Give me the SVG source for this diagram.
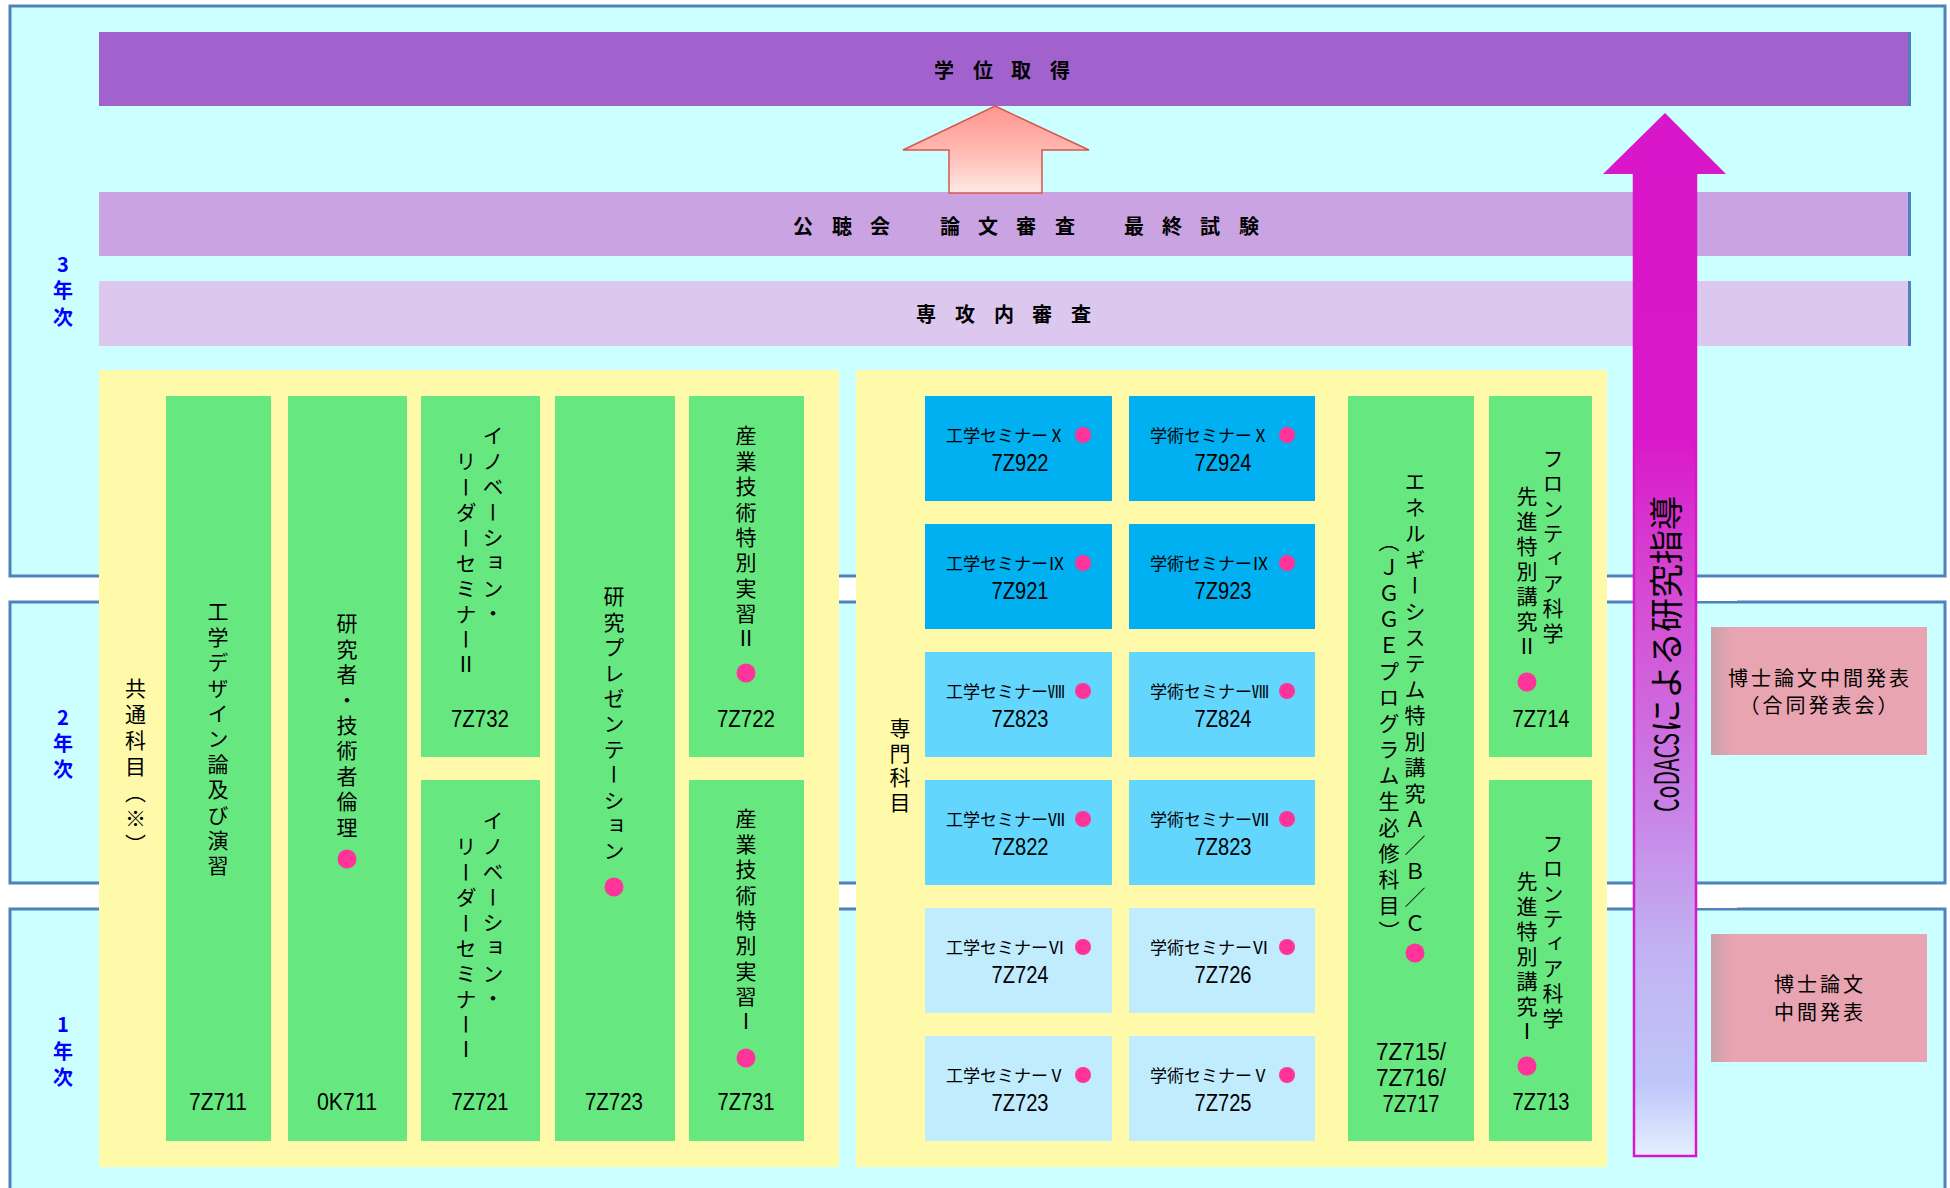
<svg xmlns="http://www.w3.org/2000/svg" width="1950" height="1188" viewBox="0 0 1950 1188">
<defs>
<style>
.yr{fill:#ccffff;stroke:#4f81bd;stroke-width:3}
.ylab{font-family:"Noto Sans CJK JP","Liberation Sans",sans-serif;font-size:20px;font-weight:bold;fill:#0000ff;text-anchor:middle}
.bt{font-family:"Noto Sans CJK JP",sans-serif;font-size:20px;font-weight:bold;fill:#000}
.panel{fill:#fffaaa}
.g{fill:#67e77f}
.s1{fill:#00b0f0}
.s2{fill:#63d6fe}
.s3{fill:#c0ecfd}
.dot{fill:#ff3399}
.vt{font-family:"Noto Sans CJK JP",sans-serif;font-size:21px;writing-mode:vertical-rl;text-orientation:upright;font-feature-settings:"fwid";letter-spacing:4.4px;fill:#000}
.w26{letter-spacing:5px}
.code{font-family:"Liberation Sans",Arial,sans-serif;font-size:23.5px;text-anchor:middle;fill:#000}
.st{font-family:"Noto Sans CJK JP",sans-serif;font-size:17px;font-feature-settings:"fwid";fill:#000}
.pt{font-family:"Noto Sans CJK JP",sans-serif;font-size:20px;letter-spacing:3px;text-anchor:middle;fill:#000}
.edge{stroke:#4f81bd;stroke-width:3}
</style>
<linearGradient id="pinkArrow" x1="0" y1="0" x2="0" y2="1">
<stop offset="0" stop-color="#ff968e"/>
<stop offset="0.45" stop-color="#ffb4ac"/>
<stop offset="1" stop-color="#ffe8e4"/>
</linearGradient>
<linearGradient id="mag" gradientUnits="userSpaceOnUse" x1="0" y1="114" x2="0" y2="1156">
<stop offset="0" stop-color="#d916c9"/>
<stop offset="0.31" stop-color="#d918c9"/>
<stop offset="0.47" stop-color="#d54dd4"/>
<stop offset="0.66" stop-color="#c980e6"/>
<stop offset="0.80" stop-color="#c2b2f2"/>
<stop offset="0.93" stop-color="#bfc6f9"/>
<stop offset="1" stop-color="#e4efff"/>
</linearGradient>
<linearGradient id="pkEdge" x1="0" y1="0" x2="1" y2="0">
<stop offset="0" stop-color="#c9a2aa"/>
<stop offset="0.1" stop-color="#e8a4b0"/>
<stop offset="1" stop-color="#e8a4b0"/>
</linearGradient>
</defs>

<g id="year-boxes">
<rect class="yr" x="10" y="6" width="1935" height="570"/>
<rect class="yr" x="10" y="602" width="1935" height="281"/>
<rect class="yr" x="10" y="909" width="1935" height="300"/>
<text class="ylab"><tspan x="63" y="272">3</tspan><tspan x="63" y="298">年</tspan><tspan x="63" y="325">次</tspan></text>
<text class="ylab"><tspan x="63" y="725">2</tspan><tspan x="63" y="751">年</tspan><tspan x="63" y="777">次</tspan></text>
<text class="ylab"><tspan x="63" y="1032">1</tspan><tspan x="63" y="1059">年</tspan><tspan x="63" y="1085">次</tspan></text>
</g>

<g id="degree">
<rect x="99" y="32" width="1812" height="74" fill="#a162cd"/>
<line class="edge" x1="1909.5" y1="32" x2="1909.5" y2="106"/>
<text class="bt" font-size="21" x="934 973 1011 1050" y="78">学位取得</text>
</g>
<g id="final-exam">
<rect x="99" y="192" width="1812" height="64" fill="#c9a3e2"/>
<line class="edge" x1="1909.5" y1="192" x2="1909.5" y2="256"/>
<text class="bt" x="793 832 870 905 940 978 1016 1055 1090 1124 1162 1200 1239" y="234">公聴会　論文審査　最終試験</text>
</g>
<g id="internal-review">
<rect x="99" y="281" width="1812" height="65" fill="#dcc8ee"/>
<line class="edge" x1="1909.5" y1="281" x2="1909.5" y2="346"/>
<text class="bt" x="916 955 994 1032 1071" y="322">専攻内審査</text>
</g>

<g id="connectors">
<polygon points="995,106 1089,150 1042,150 1042,193 949,193 949,150 903,150" fill="url(#pinkArrow)" stroke="#d4584f" stroke-width="1.5"/>
</g>

<g id="common-subjects">
<rect class="panel" x="99" y="370" width="740" height="797"/>
<text class="vt w26" x="135.5" y="678">共通科目（※）</text>
</g>
<g id="c-7Z711">
<rect class="g" x="166" y="396" width="105" height="745"/>
<text class="vt" x="218" y="601">工学デザイン論及び演習</text>
<text class="code" x="218" y="1110" textLength="58" lengthAdjust="spacingAndGlyphs">7Z711</text>
</g>
<g id="c-0K711">
<rect class="g" x="288" y="396" width="119" height="745"/>
<text class="vt" x="347" y="613">研究者・技術者倫理</text>
<circle class="dot" cx="347" cy="859" r="9.5"/>
<text class="code" x="347" y="1110" textLength="60" lengthAdjust="spacingAndGlyphs">0K711</text>
</g>
<g id="c-7Z732">
<rect class="g" x="421" y="396" width="119" height="361"/>
<text class="vt" x="493" y="425">イノベーション・</text>
<text class="vt" x="466" y="451">リーダーセミナーⅡ</text>
<text class="code" x="480" y="727" textLength="58" lengthAdjust="spacingAndGlyphs">7Z732</text>
</g>
<g id="c-7Z721">
<rect class="g" x="421" y="780" width="119" height="361"/>
<text class="vt" x="493" y="810">イノベーション・</text>
<text class="vt" x="466" y="836">リーダーセミナーⅠ</text>
<text class="code" x="480" y="1110" textLength="57" lengthAdjust="spacingAndGlyphs">7Z721</text>
</g>
<g id="c-7Z723">
<rect class="g" x="555" y="396" width="120" height="745"/>
<text class="vt" x="614" y="586">研究プレゼンテーション</text>
<circle class="dot" cx="614" cy="887" r="9.5"/>
<text class="code" x="614" y="1110" textLength="58" lengthAdjust="spacingAndGlyphs">7Z723</text>
</g>
<g id="c-7Z722">
<rect class="g" x="689" y="396" width="115" height="361"/>
<text class="vt" x="746" y="425">産業技術特別実習Ⅱ</text>
<circle class="dot" cx="746" cy="673" r="9.5"/>
<text class="code" x="746" y="727" textLength="58" lengthAdjust="spacingAndGlyphs">7Z722</text>
</g>
<g id="c-7Z731">
<rect class="g" x="689" y="780" width="115" height="361"/>
<text class="vt" x="746" y="808">産業技術特別実習Ⅰ</text>
<circle class="dot" cx="746" cy="1058" r="9.5"/>
<text class="code" x="746" y="1110" textLength="57" lengthAdjust="spacingAndGlyphs">7Z731</text>
</g>

<g id="major-subjects">
<rect class="panel" x="856" y="370" width="751" height="797"/>
<text class="vt" x="900" y="718" style="letter-spacing:3.5px">専門科目</text>
</g>

<g id="s-7Z922"><rect class="s1" x="925" y="396" width="187" height="105"/><text class="st" x="946" y="442">工学セミナーⅩ</text><circle class="dot" cx="1083" cy="435" r="8"/><text class="code" x="1020" y="471" textLength="57" lengthAdjust="spacingAndGlyphs">7Z922</text></g>
<g id="s-7Z924"><rect class="s1" x="1129" y="396" width="186" height="105"/><text class="st" x="1150" y="442">学術セミナーⅩ</text><circle class="dot" cx="1287" cy="435" r="8"/><text class="code" x="1223" y="471" textLength="57" lengthAdjust="spacingAndGlyphs">7Z924</text></g>
<g id="s-7Z921"><rect class="s1" x="925" y="524" width="187" height="105"/><text class="st" x="946" y="570">工学セミナーⅨ</text><circle class="dot" cx="1083" cy="563" r="8"/><text class="code" x="1020" y="599" textLength="57" lengthAdjust="spacingAndGlyphs">7Z921</text></g>
<g id="s-7Z923"><rect class="s1" x="1129" y="524" width="186" height="105"/><text class="st" x="1150" y="570">学術セミナーⅨ</text><circle class="dot" cx="1287" cy="563" r="8"/><text class="code" x="1223" y="599" textLength="57" lengthAdjust="spacingAndGlyphs">7Z923</text></g>
<g id="s-7Z823a"><rect class="s2" x="925" y="652" width="187" height="105"/><text class="st" x="946" y="698">工学セミナーⅧ</text><circle class="dot" cx="1083" cy="691" r="8"/><text class="code" x="1020" y="727" textLength="57" lengthAdjust="spacingAndGlyphs">7Z823</text></g>
<g id="s-7Z824"><rect class="s2" x="1129" y="652" width="186" height="105"/><text class="st" x="1150" y="698">学術セミナーⅧ</text><circle class="dot" cx="1287" cy="691" r="8"/><text class="code" x="1223" y="727" textLength="57" lengthAdjust="spacingAndGlyphs">7Z824</text></g>
<g id="s-7Z822"><rect class="s2" x="925" y="780" width="187" height="105"/><text class="st" x="946" y="826">工学セミナーⅦ</text><circle class="dot" cx="1083" cy="819" r="8"/><text class="code" x="1020" y="855" textLength="57" lengthAdjust="spacingAndGlyphs">7Z822</text></g>
<g id="s-7Z823b"><rect class="s2" x="1129" y="780" width="186" height="105"/><text class="st" x="1150" y="826">学術セミナーⅦ</text><circle class="dot" cx="1287" cy="819" r="8"/><text class="code" x="1223" y="855" textLength="57" lengthAdjust="spacingAndGlyphs">7Z823</text></g>
<g id="s-7Z724"><rect class="s3" x="925" y="908" width="187" height="105"/><text class="st" x="946" y="954">工学セミナーⅥ</text><circle class="dot" cx="1083" cy="947" r="8"/><text class="code" x="1020" y="983" textLength="57" lengthAdjust="spacingAndGlyphs">7Z724</text></g>
<g id="s-7Z726"><rect class="s3" x="1129" y="908" width="186" height="105"/><text class="st" x="1150" y="954">学術セミナーⅥ</text><circle class="dot" cx="1287" cy="947" r="8"/><text class="code" x="1223" y="983" textLength="57" lengthAdjust="spacingAndGlyphs">7Z726</text></g>
<g id="s-7Z723"><rect class="s3" x="925" y="1036" width="187" height="105"/><text class="st" x="946" y="1082">工学セミナーⅤ</text><circle class="dot" cx="1083" cy="1075" r="8"/><text class="code" x="1020" y="1111" textLength="57" lengthAdjust="spacingAndGlyphs">7Z723</text></g>
<g id="s-7Z725"><rect class="s3" x="1129" y="1036" width="186" height="105"/><text class="st" x="1150" y="1082">学術セミナーⅤ</text><circle class="dot" cx="1287" cy="1075" r="8"/><text class="code" x="1223" y="1111" textLength="57" lengthAdjust="spacingAndGlyphs">7Z725</text></g>

<g id="c-energy">
<rect class="g" x="1348" y="396" width="126" height="745"/>
<text class="vt w26" x="1415" y="471">エネルギーシステム特別講究Ａ／Ｂ／Ｃ</text>
<text class="vt w26" x="1389" y="531">（ＪＧＧＥプログラム生必修科目）</text>
<circle class="dot" cx="1415" cy="953" r="9.5"/>
<text class="code" x="1411" y="1060" textLength="70" lengthAdjust="spacingAndGlyphs">7Z715/</text>
<text class="code" x="1411" y="1086" textLength="70" lengthAdjust="spacingAndGlyphs">7Z716/</text>
<text class="code" x="1411" y="1112" textLength="57" lengthAdjust="spacingAndGlyphs">7Z717</text>
</g>
<g id="c-7Z714">
<rect class="g" x="1489" y="396" width="103" height="361"/>
<text class="vt" x="1553" y="448" style="letter-spacing:4px">フロンティア科学</text>
<text class="vt" x="1527" y="486" style="letter-spacing:4px">先進特別講究Ⅱ</text>
<circle class="dot" cx="1527" cy="682" r="9.5"/>
<text class="code" x="1541" y="727" textLength="57" lengthAdjust="spacingAndGlyphs">7Z714</text>
</g>
<g id="c-7Z713">
<rect class="g" x="1489" y="780" width="103" height="361"/>
<text class="vt" x="1553" y="833" style="letter-spacing:4px">フロンティア科学</text>
<text class="vt" x="1527" y="871" style="letter-spacing:4px">先進特別講究Ⅰ</text>
<circle class="dot" cx="1527" cy="1066" r="9.5"/>
<text class="code" x="1541" y="1110" textLength="57" lengthAdjust="spacingAndGlyphs">7Z713</text>
</g>

<g id="codacs">
<rect x="1696" y="578" width="41" height="23" fill="#ffffff"/>
<rect x="1696" y="885" width="41" height="23" fill="#ffffff"/>
<polygon points="1665,113 1726,174 1603,174" fill="#d916c9"/>
<rect x="1634" y="173" width="62" height="983" fill="url(#mag)" stroke="#d916c9" stroke-width="2.5"/>
<text transform="translate(1664,651) rotate(-90)" font-family="Noto Sans CJK JP, sans-serif" font-size="34" dominant-baseline="central" fill="#000"><tspan x="-161" y="0" textLength="79" lengthAdjust="spacingAndGlyphs">CoDACS</tspan><tspan>による研究指導</tspan></text>
</g>

<g id="interim-joint">
<rect x="1711" y="627" width="216" height="128" fill="url(#pkEdge)"/>
<text class="pt" x="1820" y="686">博士論文中間発表</text>
<text class="pt" x="1820" y="713">（合同発表会）</text>
</g>
<g id="interim">
<rect x="1711" y="934" width="216" height="128" fill="url(#pkEdge)"/>
<text class="pt" x="1820" y="992">博士論文</text>
<text class="pt" x="1820" y="1020">中間発表</text>
</g>
</svg>
